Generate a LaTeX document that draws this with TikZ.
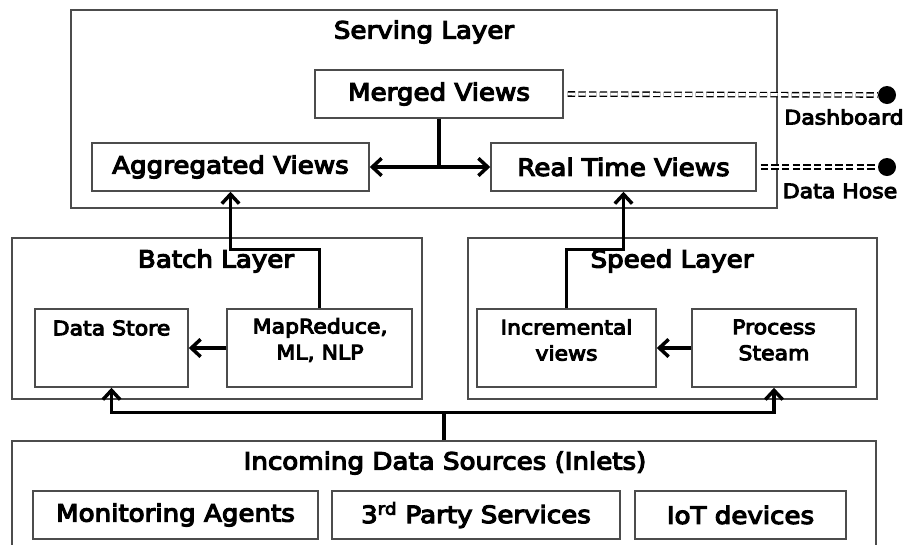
\documentclass[tikz,border=0pt]{standalone}
\usepackage{fontspec}
\setmainfont{DejaVu Sans}[FakeStretch=1.1, FakeBold=5]
\usetikzlibrary{arrows.meta}

\begin{document}
\begin{tikzpicture}[x=0.75pt, y=-0.75pt,
	wh/.style 2 args={minimum width=#1*0.75pt, minimum height=#2*0.75pt},
	box/.style={draw=black!70, line width=1.1pt, rectangle, inner sep=0pt},
	title/.style={font=\fontsize{17.8}{21}\selectfont, inner sep=0pt},
	small/.style={font=\fontsize{15}{19.5}\selectfont, align=center, inner sep=0pt},
	link/.style={line width=2.6pt},
	arrow/.style={link, -{Straight Barb[length=7pt, width=13pt]}},
	hose/.style={double, double distance=2.2pt, line width=1pt, dash pattern=on 5.5pt off 2.5pt},
	dot/.style={circle, fill=black, minimum size=13.5pt, inner sep=0pt}]
	\useasboundingbox (0,0) rectangle (909,544);
	\clip (0,0) rectangle (909,544);

	\node[box, wh={706}{198}] (serving) at (424,109) {};
	\node[title] (servingtitle) at (424,32) {Serving Layer};
	\node[box, wh={248}{48}, title] (merged) at (439,94) {Merged Views};
	\node[box, wh={277}{48}, title] (agg) at (230.5,167) {Aggregated Views};
	\node[box, wh={265}{48}, title] (rtv) at (623.5,167) {Real Time Views};

	\node[box, wh={410}{161}] (batch) at (217,318.5) {};
	\node[title] (batchtitle) at (216,261) {Batch Layer};
	\node[box, wh={153}{78}] (store) at (111.5,348) {};
	\node[small] (storetext) at (111.5,328) {Data Store};
	\node[box, wh={185}{78}] (mapred) at (319.5,348) {};
	\node[small] (mapredtext) at (320,340) {MapReduce,\\ML, NLP};

	\node[box, wh={409}{161}] (speed) at (672.5,318.5) {};
	\node[title] (speedtitle) at (672,261) {Speed Layer};
	\node[box, wh={179}{78}] (incr) at (566.5,348) {};
	\node[small] (incrtext) at (566.5,340) {Incremental\\views};
	\node[box, wh={164}{78}] (proc) at (774,348) {};
	\node[small] (proctext) at (774,340) {Process\\Steam};

	\node[box, wh={864}{107}] (inlets) at (444,494.5) {};
	\node[title] (inletstitle) at (445,463) {Incoming Data Sources (Inlets)};
	\node[box, wh={285}{48}, title] (monitor) at (175.5,515) {Monitoring Agents};
	\node[box, wh={288}{48}, title] (third) at (476,515) {3\textsuperscript{rd} Party Services};
	\node[box, wh={211}{48}, title] (iot) at (740.5,515) {IoT devices};

	\node[dot] (dashdot) at (887,95) {};
	\node[small] (dashtext) at (844,117) {Dashboard};
	\node[dot] (hosedot) at (887,167) {};
	\node[small] (hosetext) at (840,191) {Data Hose};

	\coordinate (split) at (merged.south |- agg.east);
	\draw[link] (merged.south) -- (split);
	\draw[arrow] (split) -- (agg.east);
	\draw[arrow] (split) -- (rtv.west);

	\draw[arrow] (mapred.north) -- ++(0,-59) -| (agg.south);
	\draw[arrow] (incr.north) -- ++(0,-59) -| (rtv.south);
	\draw[arrow] (mapred.west) -- (store.east);
	\draw[arrow] (proc.west) -- (incr.east);

	\coordinate (fork) at ([yshift=21pt]inlets.north);
	\draw[link] (inlets.north) -- (fork);
	\draw[arrow] (fork) -| (store.south);
	\draw[arrow] (fork) -| (proc.south);

	\draw[hose, shorten <=3pt] (merged.east) -- (dashdot.west);
	\draw[hose, shorten <=3pt] (rtv.east) -- (hosedot.west);
\end{tikzpicture}
\end{document}
